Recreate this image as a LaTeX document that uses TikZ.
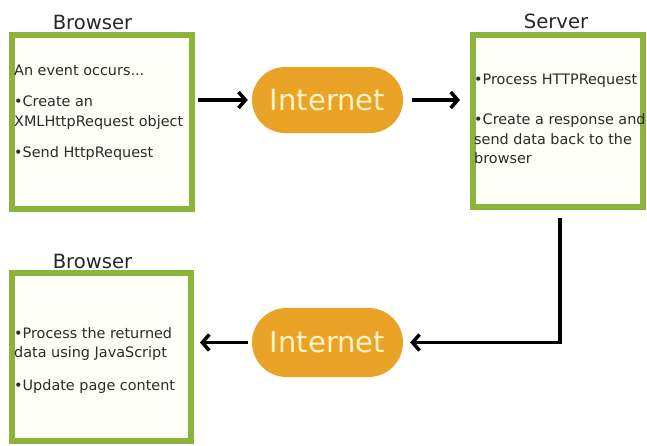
\documentclass[tikz,border=0pt]{standalone}
\usepackage{fontspec}
\setmainfont{DejaVu Sans}
\usetikzlibrary{arrows.meta}

\definecolor{panegreen}{HTML}{8CB43A}
\definecolor{panefill}{HTML}{FEFFF8}
\definecolor{netorange}{HTML}{E9A427}
\definecolor{nettext}{HTML}{FFF3C4}
\definecolor{bodytext}{HTML}{2B2B2B}

\begin{document}
\begin{tikzpicture}[x=1pt,y=-1pt,
	pane/.style={draw=panegreen,fill=panefill,line width=6pt,inner sep=0pt},
	panetext/.style={anchor=north west,align=left,inner sep=0pt,text=bodytext,
		font=\fontsize{14.4}{19.5}\selectfont},
	title/.style={anchor=base,text=black!85,font=\fontsize{19.6}{22}\selectfont},
	net/.style={fill=netorange,rounded corners=33pt,minimum width=151pt,
		minimum height=66pt,inner sep=0pt,text=nettext,font=\fontsize{29}{30}\selectfont},
	flow/.style={line width=3.5pt,-{Straight Barb[length=7pt,width=16pt]}}]
	\useasboundingbox (0,0) rectangle (647,445);

	% request side
	\node[pane,minimum width=180pt,minimum height=174pt] (b1) at (102,121.5) {};
	\node[title] (b1title) at (92.5,29) {Browser};
	\node[panetext] (b1text) at (14,65) {An event occurs...\\[11.5pt]
		•Create an\\XMLHttpRequest object\\[11.5pt]
		•Send HttpRequest};

	\node[net] (net1) at (327.5,100) {Internet};

	\node[pane,minimum width=170.5pt,minimum height=172pt] (srv) at (557.75,121) {};
	\node[title] (srvtitle) at (556,28) {Server};
	\node[panetext] (srvtext) at (474,74) {•Process HTTPRequest\\[20.5pt]
		•Create a response and\\send data back to the\\browser};

	% response side
	\node[net,minimum height=69pt,rounded corners=34.5pt] (net2) at (327.5,342.5) {Internet};

	\node[pane,minimum width=179pt,minimum height=168.5pt] (b2) at (101.5,356.75) {};
	\node[title] (b2title) at (92.5,268) {Browser};
	\node[panetext] (b2text) at (14,327) {•Process the returned\\data using JavaScript\\[13.5pt]
		•Update page content};

	\draw[flow,shorten <=3pt,shorten >=4pt] (b1.east |- net1.west) -- (net1.west);
	\draw[flow,shorten <=9pt,shorten >=9.5pt] (net1.east) -- (srv.west |- net1.east);
	\draw[flow,shorten <=8pt,shorten >=7pt] ([xshift=2pt]srv.south) |- (net2.east);
	\draw[flow,shorten <=4pt,shorten >=6pt] (net2.west) -- (b2.east |- net2.west);
\end{tikzpicture}
\end{document}
